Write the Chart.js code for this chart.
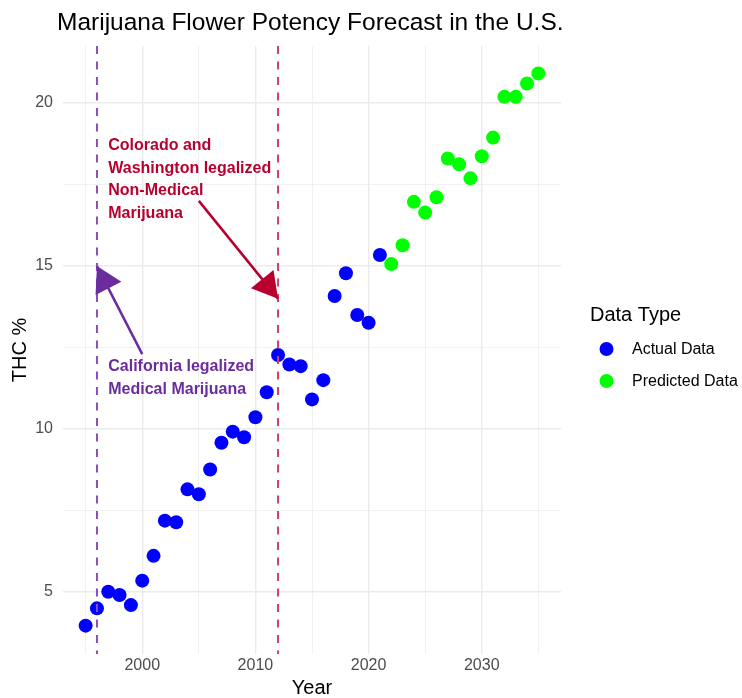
<!DOCTYPE html>
<html><head><meta charset="utf-8">
<script src="https://cdn.jsdelivr.net/npm/chart.js@4.4.1/dist/chart.umd.min.js"></script>
<style>html,body{margin:0;padding:0;background:#fff}#wrap{width:742px;height:698px}</style>
</head><body><div id="wrap"><canvas id="c" width="742" height="698"></canvas></div>
<script>
// ---- data ----
const actualYears = [1995,1996,1997,1998,1999,2000,2001,2002,2003,2004,2005,2006,2007,2008,2009,2010,2011,2012,2013,2014,2015,2016,2017,2018,2019,2020,2021];
const actualTHC   = [3.97,4.50,5.01,4.91,4.60,5.35,6.11,7.19,7.14,8.15,8.00,8.76,9.58,9.92,9.75,10.36,11.13,12.27,11.98,11.93,10.91,11.50,14.08,14.78,13.50,13.26,15.34];
const predictedYears = [2022,2023,2024,2025,2026,2027,2028,2029,2030,2031,2032,2033,2034,2035];
const predictedTHC   = [15.06,15.64,16.97,16.64,17.11,18.30,18.12,17.69,18.37,18.94,20.19,20.19,20.60,20.91];
const xTickLabels = [2000,2010,2020,2030];
const xMinorTicks = [1995,2005,2015,2025,2035];
const yTickLabels = [5,10,15,20];
const yMinorTicks = [7.5,12.5,17.5];
const seriesNames = ['Actual Data','Predicted Data'];
const eventYears = [1996, 2012];
// annotation arrows in data units: [xFrom, yFrom, xTo, yTo]
const purpleArrow = [2000, 12.3, 1996, 15.0];
const redArrow    = [2005, 17.0, 2012, 14.0];
const purpleText = ['California legalized','Medical Marijuana'];
const redText    = ['Colorado and','Washington legalized','Non-Medical','Marijuana'];
const purpleTextAt = [1997, 11.56];
const redTextAt    = [1997, 17.65];

const FONT = '"Liberation Sans", Arial, Helvetica, sans-serif';
const COL_ACTUAL = '#0000FF', COL_PRED = '#00FF00';
const COL_PURPLE_LINE = '#8A4DBF', COL_RED_LINE = '#CF3F66';
const COL_PURPLE = '#6B2C9E', COL_RED = '#B8002F';

const toPts = (xs, ys) => xs.map((x, i) => ({x, y: ys[i]}));

function arrow(ctx, x1, y1, x2, y2, color) {
  ctx.save();
  ctx.strokeStyle = color; ctx.fillStyle = color; ctx.lineWidth = 2.5;
  ctx.beginPath(); ctx.moveTo(x1, y1); ctx.lineTo(x2, y2); ctx.stroke();
  const ang = Math.atan2(y1 - y2, x1 - x2);
  const L = 29, a = Math.PI / 6;
  ctx.beginPath();
  ctx.moveTo(x2, y2);
  ctx.lineTo(x2 + L * Math.cos(ang + a), y2 + L * Math.sin(ang + a));
  ctx.lineTo(x2 + L * Math.cos(ang - a), y2 + L * Math.sin(ang - a));
  ctx.closePath(); ctx.fill();
  ctx.restore();
}

const annot = {
  id: 'annot',
  afterDatasetsDraw(chart) {
    const {ctx, chartArea: ca, scales: {x, y}} = chart;
    ctx.save();
    ctx.lineWidth = 2;
    ctx.setLineDash([8, 7.5]);
    [[eventYears[0], COL_PURPLE_LINE], [eventYears[1], COL_RED_LINE]].forEach(([yr, c]) => {
      const px = x.getPixelForValue(yr);
      ctx.strokeStyle = c;
      ctx.beginPath(); ctx.moveTo(px, ca.top); ctx.lineTo(px, ca.bottom); ctx.stroke();
    });
    ctx.setLineDash([]);
    ctx.restore();
    const P = a => [x.getPixelForValue(a[0]), y.getPixelForValue(a[1]), x.getPixelForValue(a[2]), y.getPixelForValue(a[3])];
    arrow(ctx, ...P(purpleArrow), COL_PURPLE);
    arrow(ctx, ...P(redArrow), COL_RED);
    ctx.save();
    ctx.font = 'bold 16px ' + FONT;
    ctx.textAlign = 'left'; ctx.textBaseline = 'middle';
    const lh = 22.8;
    const block = (lines, at, col) => {
      const px = x.getPixelForValue(at[0]), py = y.getPixelForValue(at[1]);
      const y0 = py - lh * (lines.length - 1) / 2;
      ctx.fillStyle = col;
      lines.forEach((t, i) => ctx.fillText(t, px, y0 + i * lh));
    };
    block(purpleText, purpleTextAt, COL_PURPLE);
    block(redText, redTextAt, COL_RED);
    ctx.restore();
  },
  afterDraw(chart) {
    const {ctx} = chart;
    ctx.save();
    ctx.fillStyle = '#000';
    ctx.textAlign = 'left'; ctx.textBaseline = 'middle';
    ctx.font = '24.5px ' + FONT;
    ctx.fillText('Marijuana Flower Potency Forecast in the U.S.', 57, 23);
    ctx.font = '20px ' + FONT;
    ctx.fillText('Data Type', 590, 315);
    ctx.font = '16px ' + FONT;
    const items = [[seriesNames[0], chart.data.datasets[0].backgroundColor, 349],
                   [seriesNames[1], chart.data.datasets[1].backgroundColor, 381]];
    items.forEach(([t, c, yy]) => {
      ctx.fillStyle = c;
      ctx.beginPath(); ctx.arc(606.5, yy, 7, 0, Math.PI * 2); ctx.fill();
      ctx.fillStyle = '#000';
      ctx.fillText(t, 632, yy + 1);
    });
    ctx.restore();
  }
};

const gridWidth = ctx => (ctx.tick && (xTickLabels.includes(ctx.tick.value) || yTickLabels.includes(ctx.tick.value))) ? 1.4 : 0.7;

new Chart(document.getElementById('c'), {
  type: 'scatter',
  data: {
    datasets: [
      {label: seriesNames[0], data: toPts(actualYears, actualTHC), backgroundColor: COL_ACTUAL, borderWidth: 0, pointRadius: 7, pointHoverRadius: 7},
      {label: seriesNames[1], data: toPts(predictedYears, predictedTHC), backgroundColor: COL_PRED, borderWidth: 0, pointRadius: 7, pointHoverRadius: 7}
    ]
  },
  options: {
    responsive: false, animation: false, devicePixelRatio: 1,
    layout: {padding: {top: 46, right: 181, bottom: 0, left: 0}},
    plugins: {legend: {display: false}, title: {display: false}, tooltip: {enabled: false}},
    scales: {
      x: {
        type: 'linear', min: 1993, max: 2037,
        afterBuildTicks: s => { s.ticks = [...xMinorTicks, ...xTickLabels].sort((a, b) => a - b).map(v => ({value: v})); },
        afterFit: s => { s.height = 44; },
        ticks: {callback: v => xTickLabels.includes(v) ? String(v) : '', font: {size: 16, family: FONT}, color: '#4D4D4D', padding: 2, maxRotation: 0, autoSkip: false},
        grid: {color: '#EBEBEB', lineWidth: gridWidth, drawTicks: false},
        border: {display: false},
        title: {display: true, text: 'Year', font: {size: 20, family: FONT, lineHeight: 1}, color: '#000', padding: {top: 0, bottom: 0}}
      },
      y: {
        type: 'linear', min: 3.1, max: 21.75,
        afterBuildTicks: s => { s.ticks = [...yTickLabels, ...yMinorTicks].sort((a, b) => a - b).map(v => ({value: v})); },
        afterFit: s => { s.width = 63; },
        ticks: {callback: v => yTickLabels.includes(v) ? String(v) : '', font: {size: 16, family: FONT}, color: '#4D4D4D', padding: 10, autoSkip: false},
        grid: {color: '#EBEBEB', lineWidth: gridWidth, drawTicks: false},
        border: {display: false},
        title: {display: true, text: 'THC %', font: {size: 20, family: FONT}, color: '#000', padding: {top: 8, bottom: 0}}
      }
    }
  },
  plugins: [annot]
});
</script></body></html>
